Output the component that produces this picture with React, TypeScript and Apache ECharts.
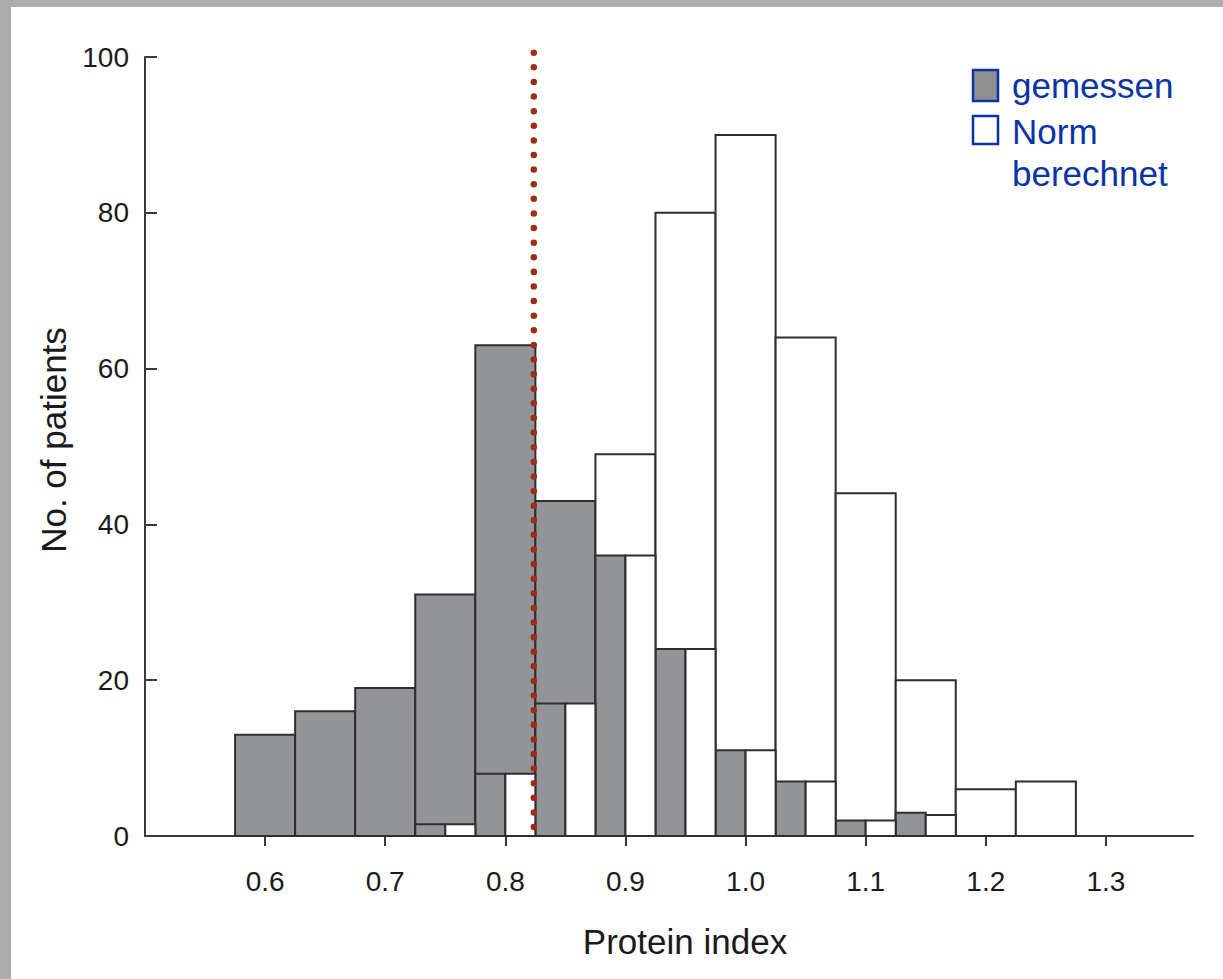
import React, { useEffect, useRef } from "react";
import * as echarts from "echarts";

// ---- Data ----
const binWidth = 0.05;
// full-width measured histogram ("gemessen")
const measuredBins = [0.6, 0.65, 0.7, 0.75, 0.8, 0.85];
const measuredCounts = [13, 16, 19, 31, 63, 43];
// full-width calculated norm histogram ("Norm berechnet")
const normBins = [0.9, 0.95, 1.0, 1.05, 1.1, 1.15, 1.2, 1.25];
const normCounts = [49, 80, 90, 64, 44, 20, 6, 7];
// paired half-width bars (grey left, white right)
const pairBins = [0.75, 0.8, 0.85, 0.9, 0.95, 1.0, 1.05, 1.1, 1.15];
const pairMeasured = [1.5, 8, 17, 36, 24, 11, 7, 2, 3];
const pairNorm = [1.5, 8, 17, 36, 24, 11, 7, 2, 2.7];
// threshold (dotted line)
const thresholdX = 0.8237;
const thresholdTop = 100.55;
// axis ticks
const xTickValues = [0.6, 0.7, 0.8, 0.9, 1.0, 1.1, 1.2, 1.3];
const xMin = 0.5;
const xMax = 1.3725;
const yTicks = [0, 20, 40, 60, 80, 100];

const FONT = "Liberation Sans, Arial, Helvetica, sans-serif";
const GREY = "#939498";
const EDGE = "#2e2e2e";
const BLUE = "#0a33a6";

function rectRenderer(fill: string) {
  return (params: any, api: any) => {
    const x0 = api.value(0);
    const x1 = api.value(1);
    const y = api.value(2);
    const p0 = api.coord([x0, y]);
    const p1 = api.coord([x1, 0]);
    return {
      type: "rect",
      shape: { x: p0[0], y: p0[1], width: p1[0] - p0[0], height: p1[1] - p0[1] },
      style: { fill, stroke: EDGE, lineWidth: 2 },
    };
  };
}

export default function App() {
  const ref = useRef<HTMLDivElement>(null);
  useEffect(() => {
    if (!ref.current) return;
    const chart = echarts.init(ref.current, undefined, { renderer: "svg" });

    const fullMeasured = measuredBins.map((c, i) => [c - binWidth / 2, c + binWidth / 2, measuredCounts[i]]);
    const fullNorm = normBins.map((c, i) => [c - binWidth / 2, c + binWidth / 2, normCounts[i]]);
    const halfMeasured = pairBins.map((c, i) => [c - binWidth / 2, c, pairMeasured[i]]);
    const halfNorm = pairBins.map((c, i) => [c, c + binWidth / 2, pairNorm[i]]);

    chart.setOption({
      animation: false,
      backgroundColor: "#ffffff",
      textStyle: { fontFamily: FONT },
      grid: { left: 134, top: 50, right: 30, bottom: 143 },
      xAxis: {
        type: "value",
        min: xMin,
        max: xMax,
        name: "Protein index",
        nameLocation: "middle",
        nameGap: 88,
        nameTextStyle: { fontSize: 35, color: "#1a1a1a", fontFamily: FONT, padding: [0, 0, 0, 32] },
        axisLine: { show: true, lineStyle: { color: "#3a3a3a", width: 2 } },
        axisTick: { show: true, inside: false, length: 10, customValues: xTickValues, lineStyle: { color: "#3a3a3a", width: 2 } },
        axisLabel: {
          customValues: xTickValues,
          fontSize: 28,
          color: "#1a1a1a",
          fontFamily: FONT,
          margin: 31,
          formatter: (v: number) => v.toFixed(1),
        },
        splitLine: { show: false },
      },
      yAxis: {
        type: "value",
        min: 0,
        max: 100,
        interval: 20,
        name: "No. of patients",
        nameLocation: "middle",
        nameGap: 74,
        nameTextStyle: { fontSize: 35, color: "#1a1a1a", fontFamily: FONT, padding: [0, 0, 0, 13] },
        axisLine: { show: true, lineStyle: { color: "#3a3a3a", width: 2 } },
        axisTick: { show: true, inside: true, length: 12, customValues: yTicks, lineStyle: { color: "#3a3a3a", width: 2 } },
        axisLabel: { fontSize: 28, color: "#1a1a1a", fontFamily: FONT, margin: 16 },
        splitLine: { show: false },
      },
      graphic: [
        { type: "rect", shape: { x: 962, y: 63, width: 25, height: 31 }, style: { fill: "#8f8f8f", stroke: BLUE, lineWidth: 2.5 } },
        { type: "rect", shape: { x: 962, y: 109, width: 25, height: 28 }, style: { fill: "#ffffff", stroke: BLUE, lineWidth: 2.5 } },
        { type: "text", x: 1001, y: 78, style: { text: "gemessen", fill: BLUE, font: `35px ${FONT}`, verticalAlign: "middle" } },
        { type: "text", x: 1001, y: 124, style: { text: "Norm", fill: BLUE, font: `35px ${FONT}`, verticalAlign: "middle" } },
        { type: "text", x: 1001, y: 166, style: { text: "berechnet", fill: BLUE, font: `35px ${FONT}`, verticalAlign: "middle" } },
      ],
      series: [
        { type: "custom", name: "gemessen", renderItem: rectRenderer(GREY), encode: { x: [0, 1], y: 2 }, data: fullMeasured },
        { type: "custom", name: "Norm berechnet", renderItem: rectRenderer("#ffffff"), encode: { x: [0, 1], y: 2 }, data: fullNorm },
        { type: "custom", name: "gemessen (paar)", renderItem: rectRenderer(GREY), encode: { x: [0, 1], y: 2 }, data: halfMeasured },
        { type: "custom", name: "Norm (paar)", renderItem: rectRenderer("#ffffff"), encode: { x: [0, 1], y: 2 }, data: halfNorm },
        {
          type: "custom",
          name: "Schwelle",
          clip: false,
          encode: { x: 0, y: 1 },
          data: [[thresholdX, thresholdTop]],
          renderItem: (params: any, api: any) => {
            const top = api.coord([api.value(0), api.value(1)]);
            const bottom = api.coord([api.value(0), 0]);
            return {
              type: "line",
              shape: { x1: top[0], y1: top[1], x2: bottom[0], y2: bottom[1] },
              style: { stroke: "#9b2f16", lineWidth: 6.5, lineDash: [0.01, 14.6], lineCap: "round" },
            };
          },
        },
      ],
    });
    return () => chart.dispose();
  }, []);

  return (
    <div style={{ position: "fixed", left: 0, top: 0, width: 1223, height: 979, background: "#adadad" }}>
      <div ref={ref} style={{ position: "absolute", left: 11, top: 7, width: 1212, height: 972, background: "#fff" }} />
    </div>
  );
}
